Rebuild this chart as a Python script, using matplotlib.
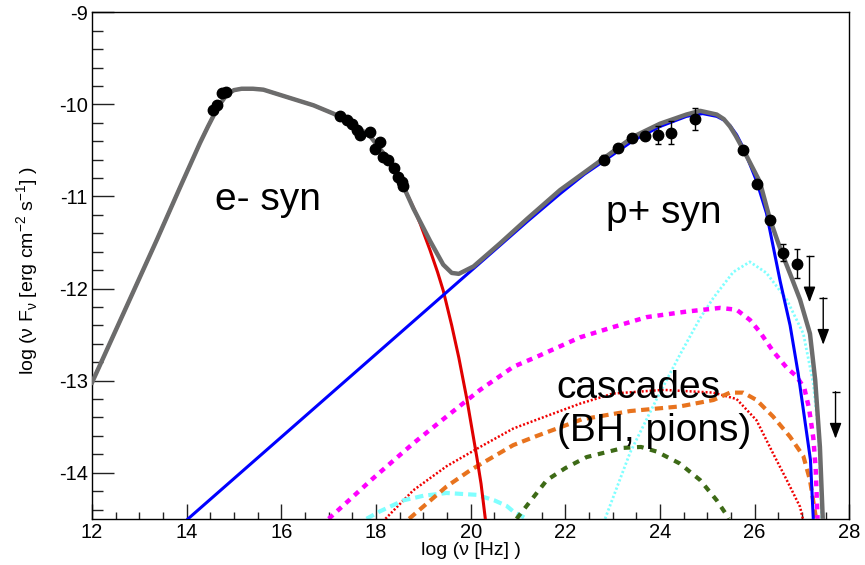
import matplotlib
matplotlib.use("Agg")
import matplotlib.pyplot as plt
from matplotlib.ticker import MultipleLocator

plt.rcParams['font.family'] = ['Liberation Sans', 'DejaVu Sans']
plt.rcParams['axes.unicode_minus'] = False

# total model (grey)
tot_x = [12.0, 13.37, 13.86, 14.28, 14.45, 14.56, 14.7, 14.85, 15.0, 15.16, 15.4, 15.62, 16.18,
         16.68, 17.1, 17.5, 17.9, 18.2, 18.5, 18.79, 19.14, 19.42, 19.6, 19.75, 20.06, 20.62,
         21.2, 21.89, 22.4, 22.8, 23.44, 24.0, 24.56, 24.85, 25.2, 25.35, 25.48, 25.6, 25.76,
         26.11, 26.32, 26.55, 26.75, 26.96, 27.17, 27.28, 27.38, 27.44]
tot_y = [-13.02, -11.47, -10.9, -10.42, -10.24, -10.13, -10.0, -9.89, -9.845, -9.83, -9.83,
         -9.84, -9.93, -10.01, -10.1, -10.2, -10.36, -10.56, -10.8, -11.13, -11.48, -11.74,
         -11.83, -11.84, -11.76, -11.51, -11.24, -10.93, -10.74, -10.59, -10.35, -10.21, -10.11,
         -10.07, -10.11, -10.16, -10.24, -10.34, -10.49, -10.84, -11.24, -11.58, -11.84, -12.12,
         -12.49, -12.99, -13.72, -14.5]

# electron synchrotron (red)
esyn_x = [12.0, 13.37, 13.86, 14.28, 14.45, 14.56, 14.7, 14.85, 15.0, 15.16, 15.4, 15.62, 16.18,
          16.68, 17.1, 17.5, 17.9, 18.2, 18.5, 18.65, 18.8, 18.93, 19.14, 19.3, 19.42, 19.6,
          19.75, 19.92, 20.13, 20.22, 20.31]
esyn_y = [-13.02, -11.47, -10.9, -10.42, -10.24, -10.13, -10.0, -9.89, -9.845, -9.83, -9.83,
          -9.84, -9.93, -10.01, -10.1, -10.2, -10.36, -10.56, -10.8, -10.97, -11.13, -11.29,
          -11.58, -11.82, -12.02, -12.4, -12.75, -13.2, -13.83, -14.12, -14.5]

# proton synchrotron (blue)
psyn_x = [14.03, 21.2, 21.89, 22.4, 22.8, 23.44, 24.0, 24.56, 24.9, 25.2, 25.35, 25.48, 25.62,
          25.76, 26.04, 26.25, 26.54, 26.75, 26.92, 27.1, 27.18, 27.24]
psyn_y = [-14.5, -11.27, -10.97, -10.76, -10.62, -10.39, -10.24, -10.13, -10.1, -10.13, -10.17,
          -10.23, -10.33, -10.47, -10.83, -11.18, -11.92, -12.4, -12.92, -13.57, -13.86, -14.5]

# cascade components
mag_x = [17.0, 17.94, 18.79, 19.49, 20.2, 20.9, 21.4, 22.31, 23.0, 23.72, 24.56, 25.27, 25.62,
         25.9, 26.11, 26.39, 26.68, 26.88, 27.05, 27.15, 27.24, 27.29, 27.33]
mag_y = [-14.5, -14.06, -13.68, -13.39, -13.1, -12.85, -12.74, -12.53, -12.42, -12.31, -12.25,
         -12.21, -12.23, -12.34, -12.47, -12.68, -12.86, -12.95, -13.08, -13.3, -13.62, -13.95, -14.5]

cyan_hi_x = [22.84, 23.37, 23.93, 24.42, 24.85, 25.13, 25.55, 25.9, 26.25, 26.68, 27.03, 27.24,
             27.35, 27.42]
cyan_hi_y = [-14.5, -13.78, -13.2, -12.72, -12.32, -12.1, -11.82, -11.71, -11.83, -12.12, -12.49,
             -13.03, -13.57, -14.5]

cyan_lo_x = [17.8, 18.08, 18.58, 19.0, 19.49, 20.13, 20.5, 20.76, 20.9, 21.18]
cyan_lo_y = [-14.5, -14.42, -14.3, -14.25, -14.22, -14.24, -14.3, -14.36, -14.42, -14.5]

reddot_x = [18.2, 18.79, 19.49, 20.2, 20.9, 21.47, 22.31, 23.01, 24.07, 25.13, 25.62, 26.04,
            26.39, 26.68, 26.96, 27.02]
reddot_y = [-14.5, -14.19, -13.93, -13.72, -13.52, -13.41, -13.25, -13.14, -13.1, -13.13, -13.2,
            -13.43, -13.79, -14.08, -14.37, -14.5]

orange_x = [18.7, 19.49, 20.0, 20.9, 21.4, 22.35, 23.37, 24.42, 25.13, 25.48, 25.76, 26.04, 26.39,
            26.75, 27.03, 27.17, 27.28, 27.3]
orange_y = [-14.5, -14.15, -13.97, -13.7, -13.6, -13.42, -13.33, -13.28, -13.21, -13.13, -13.13,
            -13.21, -13.39, -13.61, -13.82, -14.08, -14.44, -14.5]

green_x = [20.97, 21.61, 22.0, 22.45, 23.23, 23.6, 23.93, 24.42, 24.85, 25.2, 25.41, 25.45]
green_y = [-14.5, -14.08, -13.95, -13.83, -13.73, -13.72, -13.77, -13.9, -14.08, -14.3, -14.46, -14.5]

# measurements
obs_x = [14.56, 14.64, 14.75, 14.84,
         17.24, 17.38, 17.49, 17.59, 17.66, 17.87, 17.98, 18.08, 18.15, 18.26, 18.37, 18.47, 18.54, 18.58,
         22.82, 23.12, 23.4, 23.68, 23.96, 24.23, 24.74,
         25.76, 26.06, 26.32, 26.61, 26.89]
obs_y = [-10.06, -10.01, -9.88, -9.86,
         -10.13, -10.17, -10.21, -10.28, -10.33, -10.3, -10.48, -10.41, -10.57, -10.6, -10.69, -10.79,
         -10.84, -10.89,
         -10.6, -10.47, -10.36, -10.34, -10.33, -10.31, -10.16,
         -10.49, -10.86, -11.26, -11.61, -11.73]
obs_err = [0, 0, 0, 0,
           0, 0, 0, 0, 0, 0, 0, 0, 0, 0, 0, 0, 0, 0,
           0.05, 0, 0, 0, 0.095, 0.125, 0.12,
           0, 0, 0, 0.09, 0.16]

# upper limits: value and end of arrow
ul_x = [27.16, 27.45, 27.71]
ul_y = [-11.65, -12.1, -13.12]
ul_tip = [-12.15, -12.61, -13.63]

fig = plt.figure(figsize=(8.65, 5.65), dpi=100)
ax = fig.add_axes([0.1064, 0.0818, 0.8754, 0.8964])

ax.plot(reddot_x, reddot_y, color='#F00000', lw=1.8, dashes=(0.8, 0.8), zorder=2)
ax.plot(cyan_hi_x, cyan_hi_y, color='#80FFFF', lw=2.0, dashes=(0.8, 0.8), zorder=2)
ax.plot(cyan_lo_x, cyan_lo_y, color='#80FFFF', lw=3.0, dashes=(2.0, 1.2), zorder=2)
ax.plot(orange_x, orange_y, color='#E8731E', lw=3.0, dashes=(2.0, 1.3), zorder=2)
ax.plot(green_x, green_y, color='#3D6A16', lw=3.0, dashes=(1.6, 1.6), zorder=2)
ax.plot(mag_x, mag_y, color='#FF00FF', lw=3.2, dashes=(1.3, 1.3), zorder=2)
ax.plot(esyn_x, esyn_y, color='#E00000', lw=2.2, zorder=3)
ax.plot(psyn_x, psyn_y, color='#0000FF', lw=2.2, zorder=3)
ax.plot(tot_x, tot_y, color='#6C6C6C', lw=3.2, zorder=4)

ax.errorbar(obs_x, obs_y, yerr=obs_err, fmt='o', color='black', ms=7.5, elinewidth=1.0,
            capsize=2.5, capthick=1.0, zorder=5)

for x, y, tip in zip(ul_x, ul_y, ul_tip):
    ax.annotate('', xy=(x, tip), xytext=(x, y),
                arrowprops=dict(arrowstyle='-|>,head_length=0.95,head_width=0.36', color='black',
                                lw=1.0, mutation_scale=10, shrinkA=0, shrinkB=0), zorder=5)
    ax.plot([x], [y], marker='_', color='black', ms=6, mew=1.0, zorder=5)

ax.text(14.6, -11.15, 'e- syn', fontsize=28, ha='left', va='baseline')
ax.text(22.87, -11.29, 'p+ syn', fontsize=28, ha='left', va='baseline')
ax.text(21.82, -13.19, 'cascades', fontsize=28, ha='left', va='baseline')
ax.text(21.82, -13.66, '(BH, pions)', fontsize=28, ha='left', va='baseline')

ax.set_xlim(12, 28)
ax.set_ylim(-14.5, -9)
ax.xaxis.set_major_locator(MultipleLocator(2))
ax.xaxis.set_minor_locator(MultipleLocator(0.5))
ax.yaxis.set_major_locator(MultipleLocator(1))
ax.yaxis.set_minor_locator(MultipleLocator(0.2))
ax.tick_params(axis='both', which='both', direction='in', top=False, right=False,
               labelsize=14.5, width=1.0, color='#222222')
ax.tick_params(axis='x', which='major', length=10.8, pad=3)
ax.tick_params(axis='x', which='minor', length=5)
ax.tick_params(axis='y', which='major', length=15.8, pad=3)
ax.tick_params(axis='y', which='minor', length=7.9)
for s in ax.spines.values():
    s.set_linewidth(1.0)

ax.set_xlabel('log (ν [Hz] )', fontsize=14)
ax.set_ylabel('log (ν F$_{\\mathregular{ν}}$ [erg cm$^{\\mathregular{-2}}$ s$^{\\mathregular{-1}}$] )',
              fontsize=14)
ax.xaxis.set_label_coords(0.5, -0.046)
ax.yaxis.set_label_coords(-0.067, 0.49)

fig.savefig('out.png', dpi=100)
